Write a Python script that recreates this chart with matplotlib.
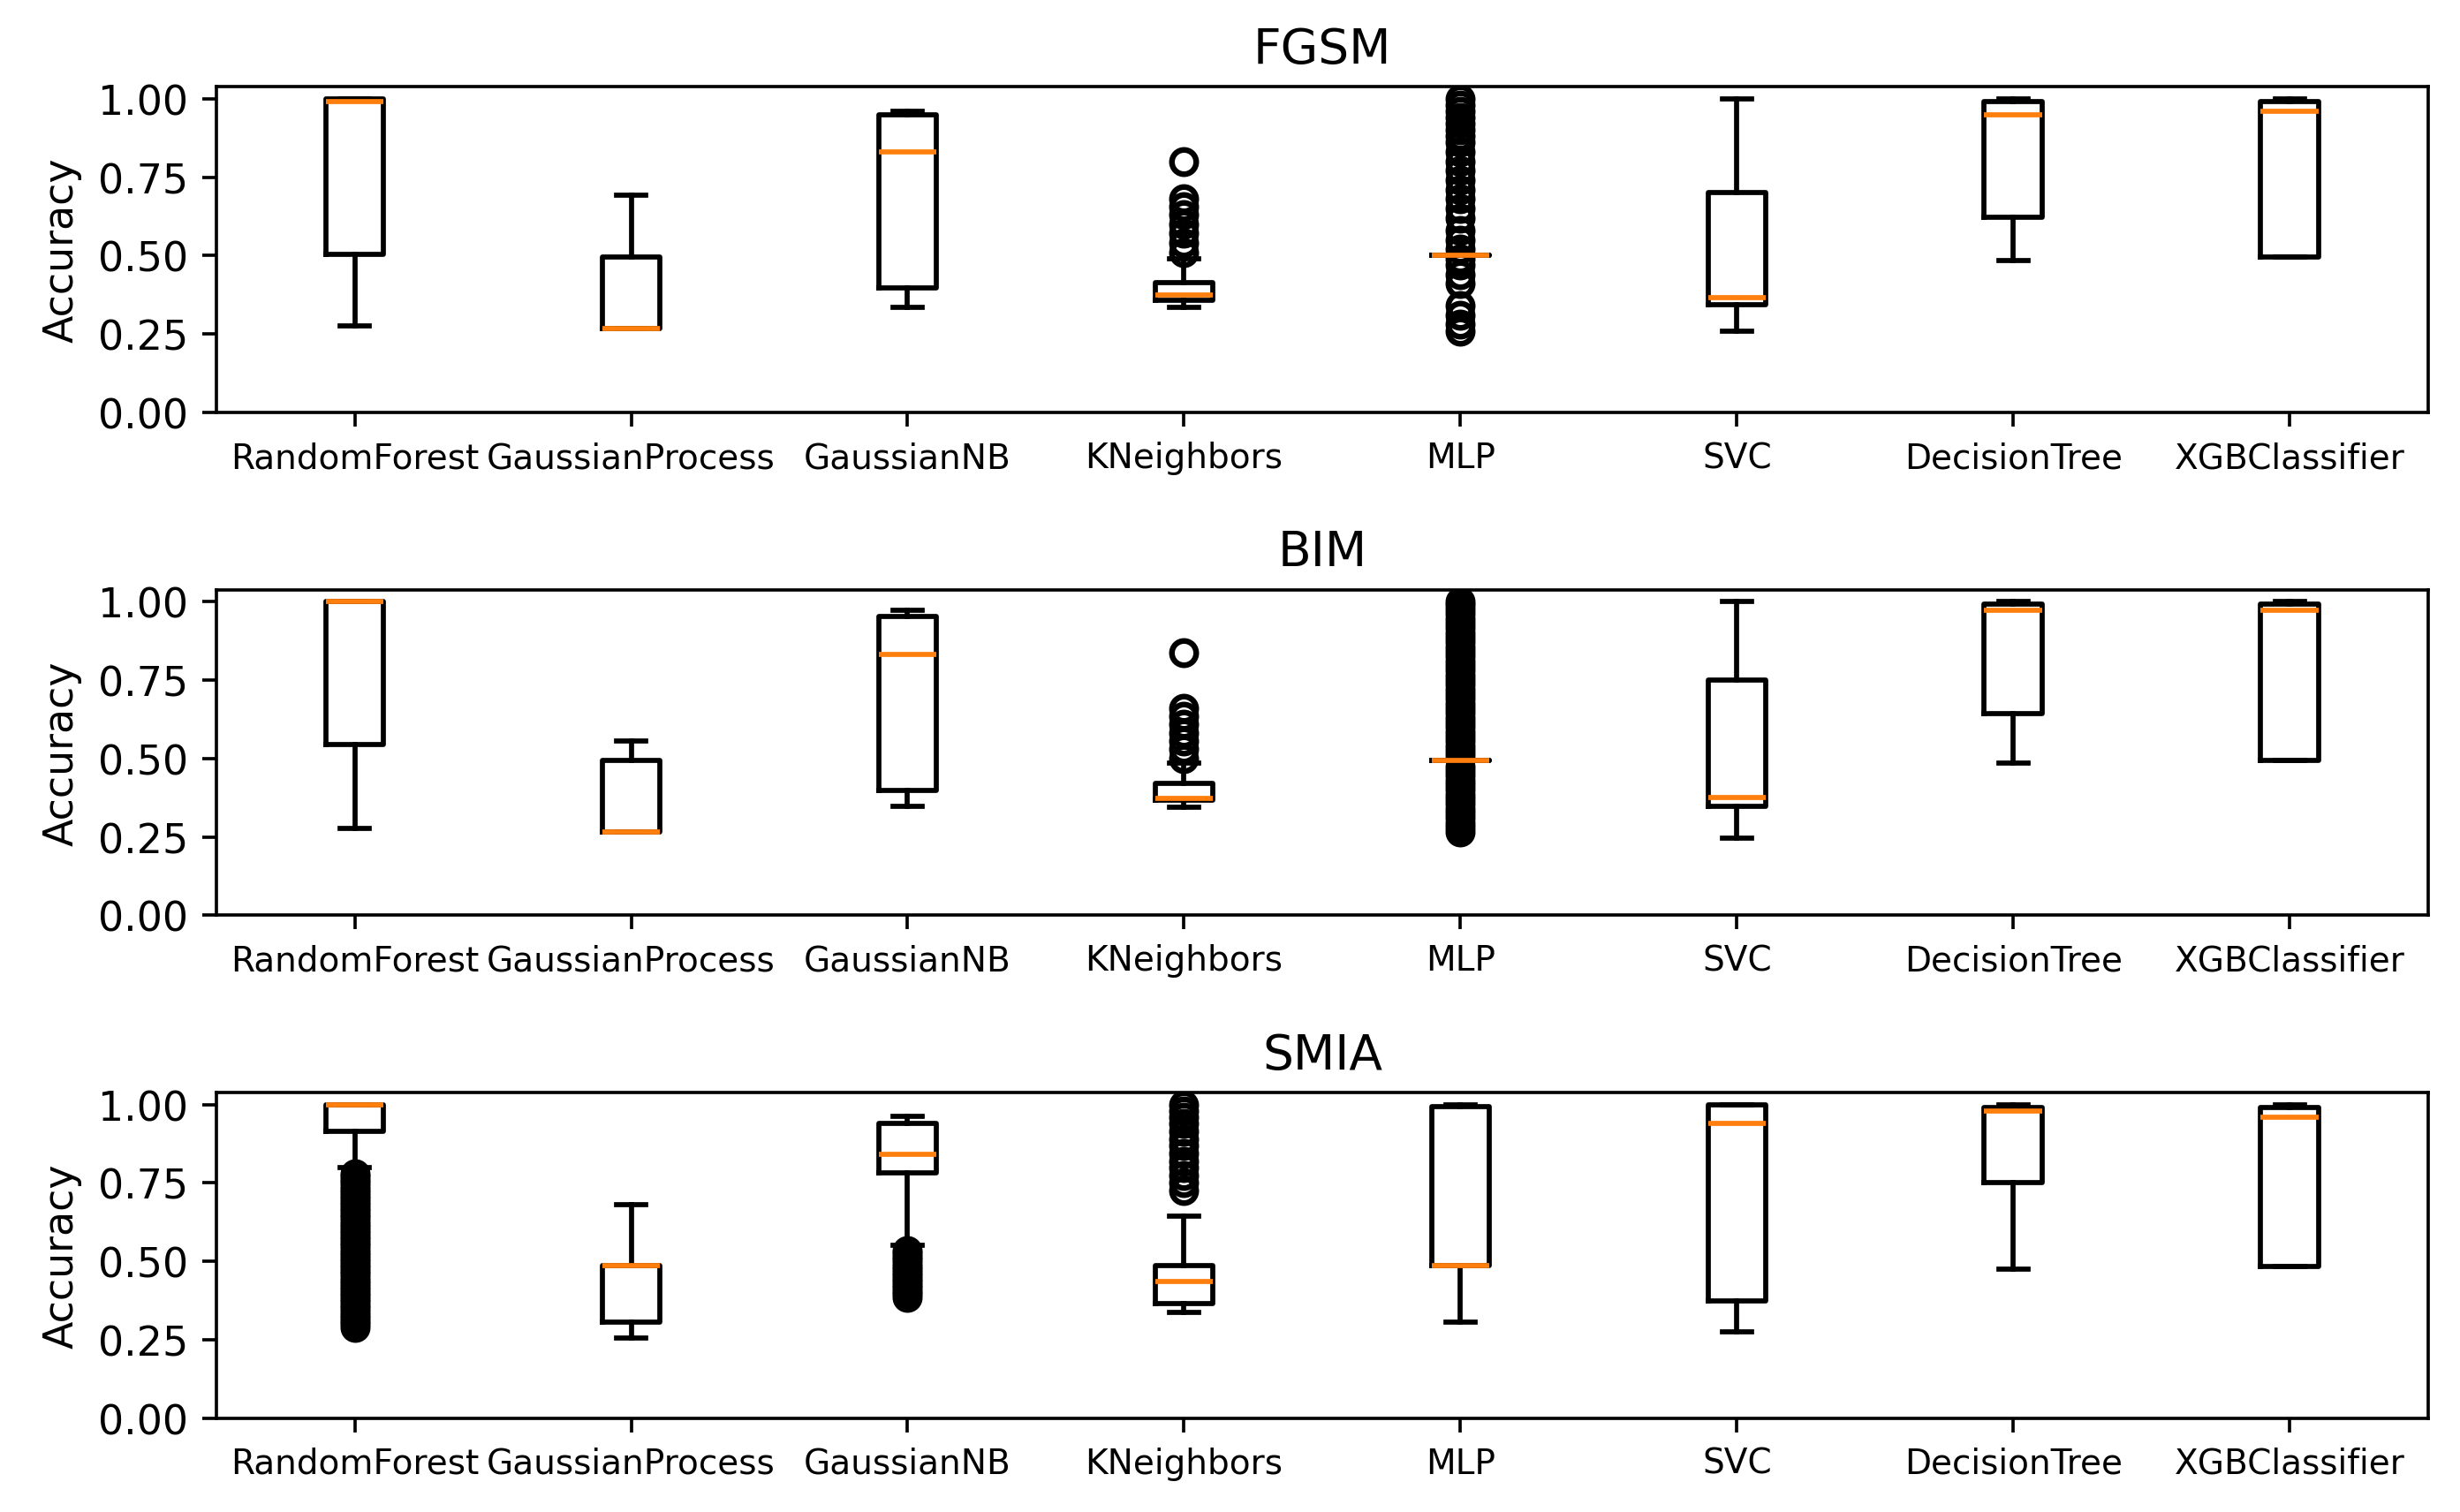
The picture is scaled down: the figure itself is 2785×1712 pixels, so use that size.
import matplotlib
matplotlib.use("Agg")
import matplotlib.pyplot as plt

models = ["RandomForest", "GaussianProcess", "GaussianNB", "KNeighbors",
          "MLP", "SVC", "DecisionTree", "XGBClassifier"]
attacks = ["FGSM", "BIM", "SMIA"]
yticks = [0.0, 0.25, 0.5, 0.75, 1.0]

# box stats, one list per statistic, one entry per model
fgsm_whislo = [0.275, 0.266, 0.336, 0.336, 0.50, 0.258, 0.483, 0.494]
fgsm_q1     = [0.503, 0.266, 0.398, 0.356, 0.50, 0.344, 0.621, 0.494]
fgsm_med    = [0.991, 0.266, 0.831, 0.375, 0.50, 0.366, 0.949, 0.959]
fgsm_q3     = [1.000, 0.494, 0.949, 0.414, 0.50, 0.701, 0.991, 0.990]
fgsm_whishi = [1.000, 0.692, 0.959, 0.490, 0.50, 0.998, 1.000, 1.000]
fgsm_fliers = [
    [], [], [],
    [0.51, 0.54, 0.57, 0.60, 0.63, 0.655, 0.68, 0.80],
    [0.26, 0.28, 0.31, 0.34, 0.41, 0.44, 0.47, 0.49, 0.52, 0.55, 0.58,
     0.62, 0.65, 0.68, 0.71, 0.74, 0.77, 0.80, 0.83, 0.86, 0.88, 0.90,
     0.92, 0.94, 0.96, 0.98, 1.00],
    [], [], [],
]

bim_whislo = [0.276, 0.266, 0.347, 0.345, 0.495, 0.247, 0.484, 0.495]
bim_q1     = [0.544, 0.266, 0.397, 0.367, 0.495, 0.347, 0.643, 0.495]
bim_med    = [1.000, 0.266, 0.831, 0.373, 0.495, 0.375, 0.971, 0.971]
bim_q3     = [1.000, 0.495, 0.952, 0.420, 0.495, 0.751, 0.991, 0.991]
bim_whishi = [1.000, 0.555, 0.971, 0.485, 0.495, 1.000, 1.000, 1.000]
bim_fliers = [
    [], [], [],
    [0.50, 0.53, 0.555, 0.58, 0.61, 0.635, 0.66, 0.838],
    [0.265, 0.28, 0.295, 0.31, 0.325, 0.34, 0.355, 0.37, 0.385, 0.40, 0.415,
     0.43, 0.445, 0.46, 0.475, 0.51, 0.525, 0.54, 0.555, 0.57, 0.585, 0.60,
     0.615, 0.63, 0.645, 0.66, 0.675, 0.69, 0.705, 0.72, 0.735, 0.75, 0.765,
     0.78, 0.795, 0.81, 0.825, 0.84, 0.855, 0.87, 0.885, 0.90, 0.915, 0.93,
     0.945, 0.96, 0.975, 0.99, 1.00],
    [], [], [],
]

smia_whislo = [0.800, 0.256, 0.550, 0.336, 0.306, 0.276, 0.474, 0.485]
smia_q1     = [0.914, 0.306, 0.783, 0.365, 0.486, 0.375, 0.752, 0.485]
smia_med    = [1.000, 0.486, 0.841, 0.436, 0.486, 0.940, 0.979, 0.960]
smia_q3     = [1.000, 0.486, 0.940, 0.486, 0.993, 1.000, 0.991, 0.991]
smia_whishi = [1.000, 0.681, 0.961, 0.644, 1.000, 1.000, 1.000, 1.000]
smia_fliers = [
    [0.29, 0.30, 0.31, 0.32, 0.33, 0.34, 0.35, 0.36, 0.37, 0.38, 0.39, 0.40,
     0.41, 0.42, 0.43, 0.44, 0.45, 0.46, 0.47, 0.48, 0.49, 0.50, 0.51, 0.52,
     0.53, 0.54, 0.55, 0.56, 0.57, 0.58, 0.59, 0.60, 0.61, 0.62, 0.63, 0.64,
     0.65, 0.66, 0.67, 0.68, 0.69, 0.70, 0.71, 0.72, 0.73, 0.74, 0.75, 0.76,
     0.77, 0.78],
    [],
    [0.385, 0.395, 0.405, 0.415, 0.425, 0.435, 0.445, 0.455, 0.465, 0.475,
     0.485, 0.495, 0.505, 0.515, 0.525, 0.535],
    [0.725, 0.75, 0.775, 0.80, 0.82, 0.845, 0.87, 0.89, 0.915, 0.94, 0.96,
     0.98, 1.00],
    [], [], [], [],
]

panels = [
    (fgsm_whislo, fgsm_q1, fgsm_med, fgsm_q3, fgsm_whishi, fgsm_fliers),
    (bim_whislo, bim_q1, bim_med, bim_q3, bim_whishi, bim_fliers),
    (smia_whislo, smia_q1, smia_med, smia_q3, smia_whishi, smia_fliers),
]

fig, axes = plt.subplots(3, 1, figsize=(2785 / 330, 1713 / 330), dpi=330)
fig.subplots_adjust(left=0.088, right=0.987, top=0.942, bottom=0.062, hspace=0.545)

lw = 1.25
for ax, title, (lo, q1, med, q3, hi, fl) in zip(axes, attacks, panels):
    stats = []
    for i in range(len(models)):
        stats.append({"whislo": lo[i], "q1": q1[i], "med": med[i], "q3": q3[i],
                      "whishi": hi[i], "fliers": fl[i], "label": models[i]})
    ax.bxp(stats, widths=0.21,
           boxprops={"linewidth": lw}, whiskerprops={"linewidth": lw},
           capprops={"linewidth": lw}, medianprops={"linewidth": lw, "color": "C1"},
           flierprops={"marker": "o", "markeredgewidth": 1.4, "markersize": 6,
                       "markerfacecolor": "none", "markeredgecolor": "black"})
    ax.set_ylim(0, 1.0377)
    ax.set_yticks(yticks)
    ax.set_yticklabels([f"{t:.2f}" for t in yticks])
    ax.set_title(title)
    ax.set_ylabel("Accuracy")
    ax.tick_params(axis="x", labelsize=8.5)

fig.savefig("out.png", dpi=330)
